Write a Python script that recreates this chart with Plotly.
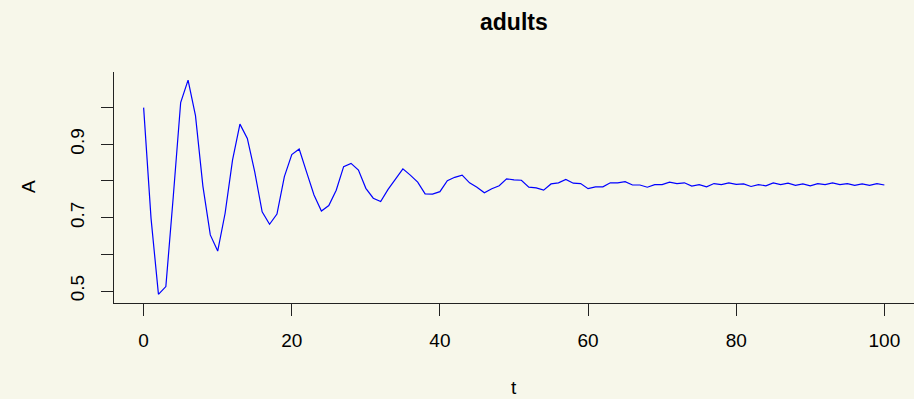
import plotly.graph_objects as go

# Time steps and adult population values
t = list(range(0, 101))
A = [
    1.000, 0.698, 0.491, 0.512, 0.757, 1.014, 1.075, 0.978, 0.786, 0.653,
    0.609, 0.712, 0.857, 0.955, 0.916, 0.825, 0.716, 0.682, 0.710, 0.812,
    0.872, 0.887, 0.824, 0.762, 0.718, 0.733, 0.775, 0.839, 0.848, 0.830,
    0.780, 0.753, 0.744, 0.777, 0.805, 0.833, 0.816, 0.797, 0.765, 0.764,
    0.771, 0.801, 0.810, 0.816, 0.795, 0.783, 0.768, 0.779, 0.787, 0.806,
    0.803, 0.802, 0.783, 0.781, 0.775, 0.792, 0.795, 0.804, 0.794, 0.793,
    0.779, 0.784, 0.784, 0.795, 0.795, 0.798, 0.789, 0.789, 0.783, 0.790,
    0.790, 0.797, 0.793, 0.795, 0.786, 0.790, 0.784, 0.793, 0.790, 0.795,
    0.791, 0.792, 0.785, 0.790, 0.787, 0.795, 0.790, 0.794, 0.788, 0.792,
    0.787, 0.793, 0.790, 0.795, 0.790, 0.793, 0.788, 0.792, 0.788, 0.793,
    0.789,
]

x_ticks = [0, 20, 40, 60, 80, 100]
y_ticks = [0.5, 0.6, 0.7, 0.8, 0.9, 1.0]
y_tick_text = ["0.5", "", "0.7", "", "0.9", ""]

title_text = "adults"
x_label = "t"
y_label = "A"

BG = "#F7F7EA"
AXIS = "#222222"
FONT = "Liberation Sans, Arial, Helvetica, sans-serif"

W, H = 914, 399
L, R, T, B = 114, 0, 72, 96
plot_w = W - L - R
plot_h = H - T - B


def px_x(x):
    """Horizontal pixel position -> paper coordinate."""
    return (x - L) / plot_w


def px_y(y):
    """Vertical pixel position (from top) -> paper coordinate."""
    return (H - B - y) / plot_h


fig = go.Figure()
fig.add_trace(go.Scatter(
    x=t, y=A, mode="lines",
    line=dict(color="#0000FF", width=1.2),
    showlegend=False, hoverinfo="skip",
))

fig.update_layout(
    width=W, height=H,
    paper_bgcolor=BG, plot_bgcolor=BG,
    margin=dict(l=L, r=R, t=T, b=B),
    font=dict(family=FONT, size=19, color="black"),
    showlegend=False,
    xaxis=dict(
        range=[-4, 104], tickvals=x_ticks,
        ticks="outside", ticklen=12, tickwidth=1, tickcolor=AXIS,
        showline=True, linecolor=AXIS, linewidth=1,
        showgrid=False, zeroline=False,
        tickfont=dict(size=19, family=FONT, color="black"),
        ticklabelstandoff=8,
    ),
    yaxis=dict(
        range=[0.4673, 1.0972], tickvals=y_ticks, ticktext=y_tick_text,
        ticks="outside", ticklen=12, tickwidth=1, tickcolor=AXIS,
        showline=True, linecolor=AXIS, linewidth=1,
        showgrid=False, zeroline=False, tickangle=-90,
        tickfont=dict(size=19, family=FONT, color="black"),
        ticklabelstandoff=9,
    ),
)

fig.add_annotation(
    text="<b>" + title_text + "</b>", xref="paper", yref="paper",
    x=px_x(514), y=px_y(22), xanchor="center", yanchor="middle",
    showarrow=False, font=dict(size=23, family=FONT, color="black"),
)
fig.add_annotation(
    text=x_label, xref="paper", yref="paper",
    x=px_x(514), y=px_y(387), xanchor="center", yanchor="middle",
    showarrow=False, font=dict(size=19, family=FONT, color="black"),
)
fig.add_annotation(
    text=y_label, xref="paper", yref="paper",
    x=px_x(28), y=px_y(187), xanchor="center", yanchor="middle",
    textangle=-90, showarrow=False,
    font=dict(size=19, family=FONT, color="black"),
)

fig.write_html("out.html")
